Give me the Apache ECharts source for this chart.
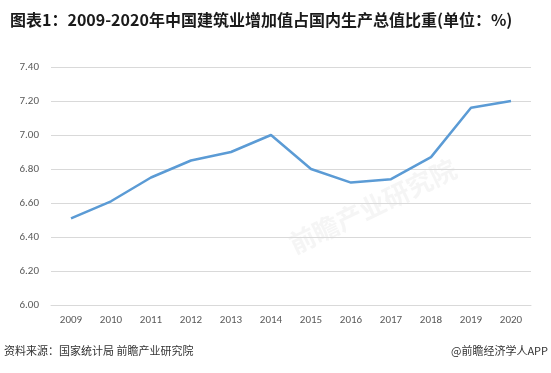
<!DOCTYPE html>
<html><head><meta charset="utf-8">
<script src="https://cdn.jsdelivr.net/npm/echarts@6/dist/echarts.min.js"></script>
<style>html,body{margin:0;padding:0;background:#fff}#c{width:551px;height:373px}</style>
</head><body><div id="c"></div>
<script>
const years = ['2009','2010','2011','2012','2013','2014','2015','2016','2017','2018','2019','2020'];
const shares = [6.51, 6.61, 6.75, 6.85, 6.90, 7.00, 6.80, 6.72, 6.74, 6.87, 7.16, 7.20];
const titleText = '图表1：2009-2020年中国建筑业增加值占国内生产总值比重(单位：%)';
const sourceText = '资料来源：国家统计局 前瞻产业研究院';
const brandText = '@前瞻经济学人APP';

const chart = echarts.init(document.getElementById('c'), null, {renderer:'canvas'});
chart.setOption({
  animation:false,
  backgroundColor:'#fff',
  title:{text:titleText,left:5,top:7,textStyle:{fontSize:16,fontWeight:'bold',color:'#1a1a1a',fontFamily:'"Noto Sans CJK SC", sans-serif'}},
  graphic:[
    {type:'text',left:4,top:345,style:{text:sourceText,fontSize:11,fill:'#333',fontFamily:'"Noto Sans CJK SC", sans-serif'}},
    {type:'text',right:3,top:345,style:{text:brandText,fontSize:11,fill:'#333',fontFamily:'"Noto Sans CJK SC", sans-serif'}},
    {type:'text',left:285,top:155,rotation:Math.PI/7,style:{text:'前瞻产业研究院',fontSize:26,fontWeight:'bold',fill:'rgba(200,200,200,0.18)',fontFamily:'"Noto Sans CJK SC", sans-serif'}}
  ],
  grid:{left:51,right:20,top:67,bottom:68,containLabel:false},
  xAxis:{type:'category',data:years,boundaryGap:true,
    axisLine:{lineStyle:{color:'#d9d9d9'}},axisTick:{show:false},
    axisLabel:{color:'#595959',fontSize:11,margin:10,fontFamily:'Calibri, "Liberation Sans", sans-serif'}},
  yAxis:{type:'value',min:6.0,max:7.4,interval:0.2,
    axisLine:{show:false},axisTick:{show:false},
    splitLine:{lineStyle:{color:'#d9d9d9'}},
    axisLabel:{color:'#595959',fontSize:11,margin:12,formatter:v=>v.toFixed(2),fontFamily:'Calibri, "Liberation Sans", sans-serif'}},
  series:[{type:'line',data:shares,symbol:'none',lineStyle:{color:'#5b9bd5',width:2.5}}]
});
</script></body></html>
